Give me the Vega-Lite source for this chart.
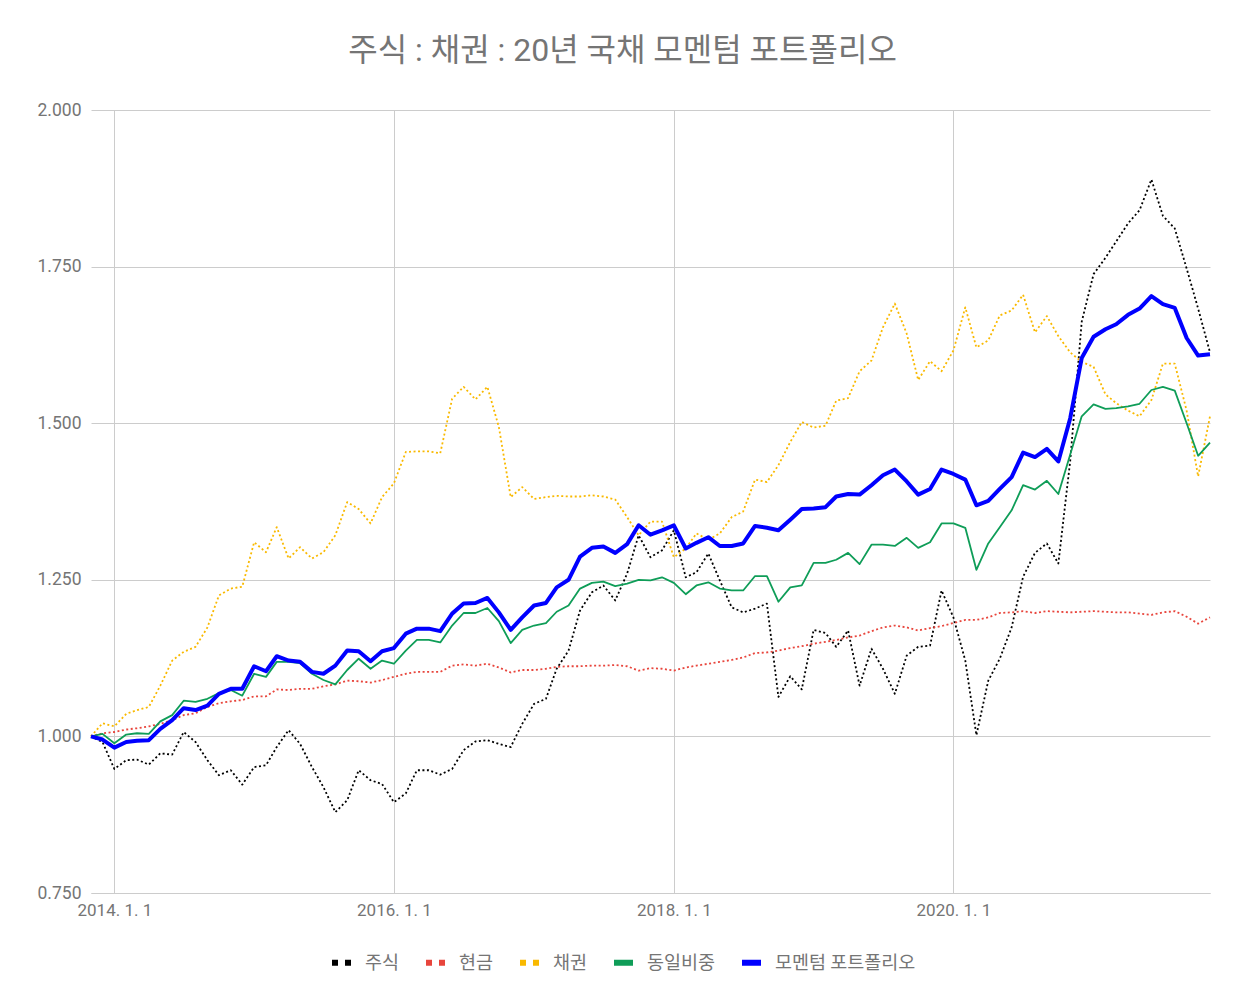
{
  "$schema": "https://vega.github.io/schema/vega-lite/v6.json",
  "autosize": {"type": "none"},
  "width": 1119,
  "height": 783,
  "padding": {"left": 91, "top": 110, "right": 24, "bottom": 108},
  "background": "white",
  "config": {"view": {"stroke": null}, "font": "Roboto, Noto Sans CJK KR"},
  "title": {
    "text": "주식 : 채권 : 20년 국채 모멘텀 포트폴리오",
    "font": "Roboto, Noto Sans CJK KR",
    "fontSize": 32,
    "fontWeight": "normal",
    "color": "#757575",
    "anchor": "middle",
    "offset": 33,
    "dx": -28
  },
  "data": {"values": [
    {"date":"2013-11-01","series":"주식","value":1.000},{"date":"2013-12-01","series":"주식","value":0.991},
    {"date":"2014-01-01","series":"주식","value":0.948},{"date":"2014-02-01","series":"주식","value":0.962},{"date":"2014-03-01","series":"주식","value":0.963},{"date":"2014-04-01","series":"주식","value":0.955},{"date":"2014-05-01","series":"주식","value":0.973},{"date":"2014-06-01","series":"주식","value":0.971},{"date":"2014-07-01","series":"주식","value":1.007},{"date":"2014-08-01","series":"주식","value":0.991},{"date":"2014-09-01","series":"주식","value":0.962},{"date":"2014-10-01","series":"주식","value":0.938},{"date":"2014-11-01","series":"주식","value":0.946},{"date":"2014-12-01","series":"주식","value":0.923},
    {"date":"2015-01-01","series":"주식","value":0.951},{"date":"2015-02-01","series":"주식","value":0.954},{"date":"2015-03-01","series":"주식","value":0.983},{"date":"2015-04-01","series":"주식","value":1.010},{"date":"2015-05-01","series":"주식","value":0.988},{"date":"2015-06-01","series":"주식","value":0.951},{"date":"2015-07-01","series":"주식","value":0.919},{"date":"2015-08-01","series":"주식","value":0.879},{"date":"2015-09-01","series":"주식","value":0.898},{"date":"2015-10-01","series":"주식","value":0.946},{"date":"2015-11-01","series":"주식","value":0.930},{"date":"2015-12-01","series":"주식","value":0.924},
    {"date":"2016-01-01","series":"주식","value":0.895},{"date":"2016-02-01","series":"주식","value":0.909},{"date":"2016-03-01","series":"주식","value":0.946},{"date":"2016-04-01","series":"주식","value":0.946},{"date":"2016-05-01","series":"주식","value":0.939},{"date":"2016-06-01","series":"주식","value":0.948},{"date":"2016-07-01","series":"주식","value":0.978},{"date":"2016-08-01","series":"주식","value":0.992},{"date":"2016-09-01","series":"주식","value":0.994},{"date":"2016-10-01","series":"주식","value":0.988},{"date":"2016-11-01","series":"주식","value":0.983},{"date":"2016-12-01","series":"주식","value":1.020},
    {"date":"2017-01-01","series":"주식","value":1.052},{"date":"2017-02-01","series":"주식","value":1.060},{"date":"2017-03-01","series":"주식","value":1.108},{"date":"2017-04-01","series":"주식","value":1.137},{"date":"2017-05-01","series":"주식","value":1.201},{"date":"2017-06-01","series":"주식","value":1.230},{"date":"2017-07-01","series":"주식","value":1.241},{"date":"2017-08-01","series":"주식","value":1.217},{"date":"2017-09-01","series":"주식","value":1.260},{"date":"2017-10-01","series":"주식","value":1.321},{"date":"2017-11-01","series":"주식","value":1.286},{"date":"2017-12-01","series":"주식","value":1.297},
    {"date":"2018-01-01","series":"주식","value":1.329},{"date":"2018-02-01","series":"주식","value":1.254},{"date":"2018-03-01","series":"주식","value":1.262},{"date":"2018-04-01","series":"주식","value":1.292},{"date":"2018-05-01","series":"주식","value":1.249},{"date":"2018-06-01","series":"주식","value":1.206},{"date":"2018-07-01","series":"주식","value":1.198},{"date":"2018-08-01","series":"주식","value":1.204},{"date":"2018-09-01","series":"주식","value":1.212},{"date":"2018-10-01","series":"주식","value":1.063},{"date":"2018-11-01","series":"주식","value":1.096},{"date":"2018-12-01","series":"주식","value":1.075},
    {"date":"2019-01-01","series":"주식","value":1.170},{"date":"2019-02-01","series":"주식","value":1.165},{"date":"2019-03-01","series":"주식","value":1.143},{"date":"2019-04-01","series":"주식","value":1.169},{"date":"2019-05-01","series":"주식","value":1.081},{"date":"2019-06-01","series":"주식","value":1.140},{"date":"2019-07-01","series":"주식","value":1.108},{"date":"2019-08-01","series":"주식","value":1.068},{"date":"2019-09-01","series":"주식","value":1.129},{"date":"2019-10-01","series":"주식","value":1.143},{"date":"2019-11-01","series":"주식","value":1.145},{"date":"2019-12-01","series":"주식","value":1.233},
    {"date":"2020-01-01","series":"주식","value":1.190},{"date":"2020-02-01","series":"주식","value":1.121},{"date":"2020-03-01","series":"주식","value":1.002},{"date":"2020-04-01","series":"주식","value":1.089},{"date":"2020-05-01","series":"주식","value":1.124},{"date":"2020-06-01","series":"주식","value":1.174},{"date":"2020-07-01","series":"주식","value":1.255},{"date":"2020-08-01","series":"주식","value":1.293},{"date":"2020-09-01","series":"주식","value":1.308},{"date":"2020-10-01","series":"주식","value":1.276},{"date":"2020-11-01","series":"주식","value":1.440},{"date":"2020-12-01","series":"주식","value":1.662},
    {"date":"2021-01-01","series":"주식","value":1.738},{"date":"2021-02-01","series":"주식","value":1.764},{"date":"2021-03-01","series":"주식","value":1.790},{"date":"2021-04-01","series":"주식","value":1.819},{"date":"2021-05-01","series":"주식","value":1.840},{"date":"2021-06-01","series":"주식","value":1.889},{"date":"2021-07-01","series":"주식","value":1.831},{"date":"2021-08-01","series":"주식","value":1.811},{"date":"2021-09-01","series":"주식","value":1.747},{"date":"2021-10-01","series":"주식","value":1.683},{"date":"2021-11-01","series":"주식","value":1.613},

    {"date":"2013-11-01","series":"현금","value":1.000},{"date":"2013-12-01","series":"현금","value":1.005},
    {"date":"2014-01-01","series":"현금","value":1.007},{"date":"2014-02-01","series":"현금","value":1.011},{"date":"2014-03-01","series":"현금","value":1.013},{"date":"2014-04-01","series":"현금","value":1.016},{"date":"2014-05-01","series":"현금","value":1.020},{"date":"2014-06-01","series":"현금","value":1.026},{"date":"2014-07-01","series":"현금","value":1.034},{"date":"2014-08-01","series":"현금","value":1.037},{"date":"2014-09-01","series":"현금","value":1.047},{"date":"2014-10-01","series":"현금","value":1.053},{"date":"2014-11-01","series":"현금","value":1.056},{"date":"2014-12-01","series":"현금","value":1.058},
    {"date":"2015-01-01","series":"현금","value":1.064},{"date":"2015-02-01","series":"현금","value":1.064},{"date":"2015-03-01","series":"현금","value":1.075},{"date":"2015-04-01","series":"현금","value":1.074},{"date":"2015-05-01","series":"현금","value":1.076},{"date":"2015-06-01","series":"현금","value":1.076},{"date":"2015-07-01","series":"현금","value":1.080},{"date":"2015-08-01","series":"현금","value":1.083},{"date":"2015-09-01","series":"현금","value":1.089},{"date":"2015-10-01","series":"현금","value":1.088},{"date":"2015-11-01","series":"현금","value":1.086},{"date":"2015-12-01","series":"현금","value":1.090},
    {"date":"2016-01-01","series":"현금","value":1.095},{"date":"2016-02-01","series":"현금","value":1.100},{"date":"2016-03-01","series":"현금","value":1.103},{"date":"2016-04-01","series":"현금","value":1.103},{"date":"2016-05-01","series":"현금","value":1.103},{"date":"2016-06-01","series":"현금","value":1.113},{"date":"2016-07-01","series":"현금","value":1.115},{"date":"2016-08-01","series":"현금","value":1.113},{"date":"2016-09-01","series":"현금","value":1.116},{"date":"2016-10-01","series":"현금","value":1.110},{"date":"2016-11-01","series":"현금","value":1.102},{"date":"2016-12-01","series":"현금","value":1.106},
    {"date":"2017-01-01","series":"현금","value":1.106},{"date":"2017-02-01","series":"현금","value":1.108},{"date":"2017-03-01","series":"현금","value":1.111},{"date":"2017-04-01","series":"현금","value":1.112},{"date":"2017-05-01","series":"현금","value":1.112},{"date":"2017-06-01","series":"현금","value":1.113},{"date":"2017-07-01","series":"현금","value":1.113},{"date":"2017-08-01","series":"현금","value":1.114},{"date":"2017-09-01","series":"현금","value":1.112},{"date":"2017-10-01","series":"현금","value":1.105},{"date":"2017-11-01","series":"현금","value":1.109},{"date":"2017-12-01","series":"현금","value":1.108},
    {"date":"2018-01-01","series":"현금","value":1.105},{"date":"2018-02-01","series":"현금","value":1.110},{"date":"2018-03-01","series":"현금","value":1.113},{"date":"2018-04-01","series":"현금","value":1.116},{"date":"2018-05-01","series":"현금","value":1.119},{"date":"2018-06-01","series":"현금","value":1.122},{"date":"2018-07-01","series":"현금","value":1.126},{"date":"2018-08-01","series":"현금","value":1.133},{"date":"2018-09-01","series":"현금","value":1.134},{"date":"2018-10-01","series":"현금","value":1.137},{"date":"2018-11-01","series":"현금","value":1.141},{"date":"2018-12-01","series":"현금","value":1.144},
    {"date":"2019-01-01","series":"현금","value":1.148},{"date":"2019-02-01","series":"현금","value":1.151},{"date":"2019-03-01","series":"현금","value":1.154},{"date":"2019-04-01","series":"현금","value":1.158},{"date":"2019-05-01","series":"현금","value":1.161},{"date":"2019-06-01","series":"현금","value":1.168},{"date":"2019-07-01","series":"현금","value":1.174},{"date":"2019-08-01","series":"현금","value":1.177},{"date":"2019-09-01","series":"현금","value":1.174},{"date":"2019-10-01","series":"현금","value":1.169},{"date":"2019-11-01","series":"현금","value":1.173},{"date":"2019-12-01","series":"현금","value":1.176},
    {"date":"2020-01-01","series":"현금","value":1.181},{"date":"2020-02-01","series":"현금","value":1.186},{"date":"2020-03-01","series":"현금","value":1.186},{"date":"2020-04-01","series":"현금","value":1.190},{"date":"2020-05-01","series":"현금","value":1.197},{"date":"2020-06-01","series":"현금","value":1.198},{"date":"2020-07-01","series":"현금","value":1.200},{"date":"2020-08-01","series":"현금","value":1.197},{"date":"2020-09-01","series":"현금","value":1.200},{"date":"2020-10-01","series":"현금","value":1.199},{"date":"2020-11-01","series":"현금","value":1.198},{"date":"2020-12-01","series":"현금","value":1.199},
    {"date":"2021-01-01","series":"현금","value":1.200},{"date":"2021-02-01","series":"현금","value":1.199},{"date":"2021-03-01","series":"현금","value":1.198},{"date":"2021-04-01","series":"현금","value":1.198},{"date":"2021-05-01","series":"현금","value":1.196},{"date":"2021-06-01","series":"현금","value":1.194},{"date":"2021-07-01","series":"현금","value":1.198},{"date":"2021-08-01","series":"현금","value":1.200},{"date":"2021-09-01","series":"현금","value":1.191},{"date":"2021-10-01","series":"현금","value":1.180},{"date":"2021-11-01","series":"현금","value":1.190},

    {"date":"2013-11-01","series":"채권","value":1.000},{"date":"2013-12-01","series":"채권","value":1.021},
    {"date":"2014-01-01","series":"채권","value":1.016},{"date":"2014-02-01","series":"채권","value":1.036},{"date":"2014-03-01","series":"채권","value":1.042},{"date":"2014-04-01","series":"채권","value":1.047},{"date":"2014-05-01","series":"채권","value":1.081},{"date":"2014-06-01","series":"채권","value":1.121},{"date":"2014-07-01","series":"채권","value":1.135},{"date":"2014-08-01","series":"채권","value":1.143},{"date":"2014-09-01","series":"채권","value":1.174},{"date":"2014-10-01","series":"채권","value":1.225},{"date":"2014-11-01","series":"채권","value":1.236},{"date":"2014-12-01","series":"채권","value":1.239},
    {"date":"2015-01-01","series":"채권","value":1.310},{"date":"2015-02-01","series":"채권","value":1.294},{"date":"2015-03-01","series":"채권","value":1.334},{"date":"2015-04-01","series":"채권","value":1.284},{"date":"2015-05-01","series":"채권","value":1.302},{"date":"2015-06-01","series":"채권","value":1.284},{"date":"2015-07-01","series":"채권","value":1.294},{"date":"2015-08-01","series":"채권","value":1.321},{"date":"2015-09-01","series":"채권","value":1.374},{"date":"2015-10-01","series":"채권","value":1.363},{"date":"2015-11-01","series":"채권","value":1.340},{"date":"2015-12-01","series":"채권","value":1.382},
    {"date":"2016-01-01","series":"채권","value":1.404},{"date":"2016-02-01","series":"채권","value":1.454},{"date":"2016-03-01","series":"채권","value":1.455},{"date":"2016-04-01","series":"채권","value":1.455},{"date":"2016-05-01","series":"채권","value":1.452},{"date":"2016-06-01","series":"채권","value":1.539},{"date":"2016-07-01","series":"채권","value":1.558},{"date":"2016-08-01","series":"채권","value":1.538},{"date":"2016-09-01","series":"채권","value":1.558},{"date":"2016-10-01","series":"채권","value":1.494},{"date":"2016-11-01","series":"채권","value":1.382},{"date":"2016-12-01","series":"채권","value":1.398},
    {"date":"2017-01-01","series":"채권","value":1.379},{"date":"2017-02-01","series":"채권","value":1.382},{"date":"2017-03-01","series":"채권","value":1.384},{"date":"2017-04-01","series":"채권","value":1.383},{"date":"2017-05-01","series":"채권","value":1.383},{"date":"2017-06-01","series":"채권","value":1.385},{"date":"2017-07-01","series":"채권","value":1.383},{"date":"2017-08-01","series":"채권","value":1.378},{"date":"2017-09-01","series":"채권","value":1.350},{"date":"2017-10-01","series":"채권","value":1.321},{"date":"2017-11-01","series":"채권","value":1.343},{"date":"2017-12-01","series":"채권","value":1.343},
    {"date":"2018-01-01","series":"채권","value":1.286},{"date":"2018-02-01","series":"채권","value":1.300},{"date":"2018-03-01","series":"채권","value":1.324},{"date":"2018-04-01","series":"채권","value":1.314},{"date":"2018-05-01","series":"채권","value":1.324},{"date":"2018-06-01","series":"채권","value":1.350},{"date":"2018-07-01","series":"채권","value":1.359},{"date":"2018-08-01","series":"채권","value":1.410},{"date":"2018-09-01","series":"채권","value":1.406},{"date":"2018-10-01","series":"채권","value":1.433},{"date":"2018-11-01","series":"채권","value":1.470},{"date":"2018-12-01","series":"채권","value":1.502},
    {"date":"2019-01-01","series":"채권","value":1.493},{"date":"2019-02-01","series":"채권","value":1.496},{"date":"2019-03-01","series":"채권","value":1.536},{"date":"2019-04-01","series":"채권","value":1.540},{"date":"2019-05-01","series":"채권","value":1.583},{"date":"2019-06-01","series":"채권","value":1.600},{"date":"2019-07-01","series":"채권","value":1.653},{"date":"2019-08-01","series":"채권","value":1.691},{"date":"2019-09-01","series":"채권","value":1.643},{"date":"2019-10-01","series":"채권","value":1.569},{"date":"2019-11-01","series":"채권","value":1.599},{"date":"2019-12-01","series":"채권","value":1.583},
    {"date":"2020-01-01","series":"채권","value":1.616},{"date":"2020-02-01","series":"채권","value":1.685},{"date":"2020-03-01","series":"채권","value":1.621},{"date":"2020-04-01","series":"채권","value":1.632},{"date":"2020-05-01","series":"채권","value":1.672},{"date":"2020-06-01","series":"채권","value":1.680},{"date":"2020-07-01","series":"채권","value":1.705},{"date":"2020-08-01","series":"채권","value":1.645},{"date":"2020-09-01","series":"채권","value":1.671},{"date":"2020-10-01","series":"채권","value":1.639},{"date":"2020-11-01","series":"채권","value":1.613},{"date":"2020-12-01","series":"채권","value":1.598},
    {"date":"2021-01-01","series":"채권","value":1.590},{"date":"2021-02-01","series":"채권","value":1.546},{"date":"2021-03-01","series":"채권","value":1.532},{"date":"2021-04-01","series":"채권","value":1.520},{"date":"2021-05-01","series":"채권","value":1.511},{"date":"2021-06-01","series":"채권","value":1.537},{"date":"2021-07-01","series":"채권","value":1.595},{"date":"2021-08-01","series":"채권","value":1.595},{"date":"2021-09-01","series":"채권","value":1.520},{"date":"2021-10-01","series":"채권","value":1.415},{"date":"2021-11-01","series":"채권","value":1.511},

    {"date":"2013-11-01","series":"동일비중","value":1.000},{"date":"2013-12-01","series":"동일비중","value":1.004},
    {"date":"2014-01-01","series":"동일비중","value":0.989},{"date":"2014-02-01","series":"동일비중","value":1.003},{"date":"2014-03-01","series":"동일비중","value":1.005},{"date":"2014-04-01","series":"동일비중","value":1.004},{"date":"2014-05-01","series":"동일비중","value":1.024},{"date":"2014-06-01","series":"동일비중","value":1.034},{"date":"2014-07-01","series":"동일비중","value":1.057},{"date":"2014-08-01","series":"동일비중","value":1.055},{"date":"2014-09-01","series":"동일비중","value":1.060},{"date":"2014-10-01","series":"동일비중","value":1.069},{"date":"2014-11-01","series":"동일비중","value":1.074},{"date":"2014-12-01","series":"동일비중","value":1.065},
    {"date":"2015-01-01","series":"동일비중","value":1.100},{"date":"2015-02-01","series":"동일비중","value":1.095},{"date":"2015-03-01","series":"동일비중","value":1.119},{"date":"2015-04-01","series":"동일비중","value":1.119},{"date":"2015-05-01","series":"동일비중","value":1.117},{"date":"2015-06-01","series":"동일비중","value":1.100},{"date":"2015-07-01","series":"동일비중","value":1.090},{"date":"2015-08-01","series":"동일비중","value":1.083},{"date":"2015-09-01","series":"동일비중","value":1.106},{"date":"2015-10-01","series":"동일비중","value":1.124},{"date":"2015-11-01","series":"동일비중","value":1.108},{"date":"2015-12-01","series":"동일비중","value":1.121},
    {"date":"2016-01-01","series":"동일비중","value":1.116},{"date":"2016-02-01","series":"동일비중","value":1.137},{"date":"2016-03-01","series":"동일비중","value":1.154},{"date":"2016-04-01","series":"동일비중","value":1.154},{"date":"2016-05-01","series":"동일비중","value":1.150},{"date":"2016-06-01","series":"동일비중","value":1.177},{"date":"2016-07-01","series":"동일비중","value":1.197},{"date":"2016-08-01","series":"동일비중","value":1.197},{"date":"2016-09-01","series":"동일비중","value":1.205},{"date":"2016-10-01","series":"동일비중","value":1.184},{"date":"2016-11-01","series":"동일비중","value":1.149},{"date":"2016-12-01","series":"동일비중","value":1.170},
    {"date":"2017-01-01","series":"동일비중","value":1.177},{"date":"2017-02-01","series":"동일비중","value":1.181},{"date":"2017-03-01","series":"동일비중","value":1.199},{"date":"2017-04-01","series":"동일비중","value":1.209},{"date":"2017-05-01","series":"동일비중","value":1.236},{"date":"2017-06-01","series":"동일비중","value":1.245},{"date":"2017-07-01","series":"동일비중","value":1.247},{"date":"2017-08-01","series":"동일비중","value":1.240},{"date":"2017-09-01","series":"동일비중","value":1.244},{"date":"2017-10-01","series":"동일비중","value":1.250},{"date":"2017-11-01","series":"동일비중","value":1.249},{"date":"2017-12-01","series":"동일비중","value":1.254},
    {"date":"2018-01-01","series":"동일비중","value":1.245},{"date":"2018-02-01","series":"동일비중","value":1.227},{"date":"2018-03-01","series":"동일비중","value":1.241},{"date":"2018-04-01","series":"동일비중","value":1.246},{"date":"2018-05-01","series":"동일비중","value":1.236},{"date":"2018-06-01","series":"동일비중","value":1.233},{"date":"2018-07-01","series":"동일비중","value":1.233},{"date":"2018-08-01","series":"동일비중","value":1.256},{"date":"2018-09-01","series":"동일비중","value":1.256},{"date":"2018-10-01","series":"동일비중","value":1.215},{"date":"2018-11-01","series":"동일비중","value":1.238},{"date":"2018-12-01","series":"동일비중","value":1.241},
    {"date":"2019-01-01","series":"동일비중","value":1.277},{"date":"2019-02-01","series":"동일비중","value":1.277},{"date":"2019-03-01","series":"동일비중","value":1.282},{"date":"2019-04-01","series":"동일비중","value":1.293},{"date":"2019-05-01","series":"동일비중","value":1.275},{"date":"2019-06-01","series":"동일비중","value":1.306},{"date":"2019-07-01","series":"동일비중","value":1.306},{"date":"2019-08-01","series":"동일비중","value":1.304},{"date":"2019-09-01","series":"동일비중","value":1.317},{"date":"2019-10-01","series":"동일비중","value":1.301},{"date":"2019-11-01","series":"동일비중","value":1.310},{"date":"2019-12-01","series":"동일비중","value":1.340},
    {"date":"2020-01-01","series":"동일비중","value":1.340},{"date":"2020-02-01","series":"동일비중","value":1.333},{"date":"2020-03-01","series":"동일비중","value":1.266},{"date":"2020-04-01","series":"동일비중","value":1.308},{"date":"2020-05-01","series":"동일비중","value":1.334},{"date":"2020-06-01","series":"동일비중","value":1.361},{"date":"2020-07-01","series":"동일비중","value":1.401},{"date":"2020-08-01","series":"동일비중","value":1.394},{"date":"2020-09-01","series":"동일비중","value":1.408},{"date":"2020-10-01","series":"동일비중","value":1.387},{"date":"2020-11-01","series":"동일비중","value":1.450},{"date":"2020-12-01","series":"동일비중","value":1.511},
    {"date":"2021-01-01","series":"동일비중","value":1.530},{"date":"2021-02-01","series":"동일비중","value":1.523},{"date":"2021-03-01","series":"동일비중","value":1.524},{"date":"2021-04-01","series":"동일비중","value":1.527},{"date":"2021-05-01","series":"동일비중","value":1.531},{"date":"2021-06-01","series":"동일비중","value":1.553},{"date":"2021-07-01","series":"동일비중","value":1.558},{"date":"2021-08-01","series":"동일비중","value":1.552},{"date":"2021-09-01","series":"동일비중","value":1.500},{"date":"2021-10-01","series":"동일비중","value":1.448},{"date":"2021-11-01","series":"동일비중","value":1.469},

    {"date":"2013-11-01","series":"모멘텀 포트폴리오","value":1.000},{"date":"2013-12-01","series":"모멘텀 포트폴리오","value":0.995},
    {"date":"2014-01-01","series":"모멘텀 포트폴리오","value":0.982},{"date":"2014-02-01","series":"모멘텀 포트폴리오","value":0.991},{"date":"2014-03-01","series":"모멘텀 포트폴리오","value":0.993},{"date":"2014-04-01","series":"모멘텀 포트폴리오","value":0.994},{"date":"2014-05-01","series":"모멘텀 포트폴리오","value":1.012},{"date":"2014-06-01","series":"모멘텀 포트폴리오","value":1.026},{"date":"2014-07-01","series":"모멘텀 포트폴리오","value":1.045},{"date":"2014-08-01","series":"모멘텀 포트폴리오","value":1.042},{"date":"2014-09-01","series":"모멘텀 포트폴리오","value":1.049},{"date":"2014-10-01","series":"모멘텀 포트폴리오","value":1.068},{"date":"2014-11-01","series":"모멘텀 포트폴리오","value":1.076},{"date":"2014-12-01","series":"모멘텀 포트폴리오","value":1.076},
    {"date":"2015-01-01","series":"모멘텀 포트폴리오","value":1.112},{"date":"2015-02-01","series":"모멘텀 포트폴리오","value":1.104},{"date":"2015-03-01","series":"모멘텀 포트폴리오","value":1.128},{"date":"2015-04-01","series":"모멘텀 포트폴리오","value":1.121},{"date":"2015-05-01","series":"모멘텀 포트폴리오","value":1.119},{"date":"2015-06-01","series":"모멘텀 포트폴리오","value":1.103},{"date":"2015-07-01","series":"모멘텀 포트폴리오","value":1.100},{"date":"2015-08-01","series":"모멘텀 포트폴리오","value":1.113},{"date":"2015-09-01","series":"모멘텀 포트폴리오","value":1.137},{"date":"2015-10-01","series":"모멘텀 포트폴리오","value":1.136},{"date":"2015-11-01","series":"모멘텀 포트폴리오","value":1.120},{"date":"2015-12-01","series":"모멘텀 포트폴리오","value":1.136},
    {"date":"2016-01-01","series":"모멘텀 포트폴리오","value":1.141},{"date":"2016-02-01","series":"모멘텀 포트폴리오","value":1.164},{"date":"2016-03-01","series":"모멘텀 포트폴리오","value":1.172},{"date":"2016-04-01","series":"모멘텀 포트폴리오","value":1.172},{"date":"2016-05-01","series":"모멘텀 포트폴리오","value":1.168},{"date":"2016-06-01","series":"모멘텀 포트폴리오","value":1.196},{"date":"2016-07-01","series":"모멘텀 포트폴리오","value":1.212},{"date":"2016-08-01","series":"모멘텀 포트폴리오","value":1.213},{"date":"2016-09-01","series":"모멘텀 포트폴리오","value":1.221},{"date":"2016-10-01","series":"모멘텀 포트폴리오","value":1.198},{"date":"2016-11-01","series":"모멘텀 포트폴리오","value":1.170},{"date":"2016-12-01","series":"모멘텀 포트폴리오","value":1.190},
    {"date":"2017-01-01","series":"모멘텀 포트폴리오","value":1.209},{"date":"2017-02-01","series":"모멘텀 포트폴리오","value":1.213},{"date":"2017-03-01","series":"모멘텀 포트폴리오","value":1.238},{"date":"2017-04-01","series":"모멘텀 포트폴리오","value":1.250},{"date":"2017-05-01","series":"모멘텀 포트폴리오","value":1.287},{"date":"2017-06-01","series":"모멘텀 포트폴리오","value":1.301},{"date":"2017-07-01","series":"모멘텀 포트폴리오","value":1.303},{"date":"2017-08-01","series":"모멘텀 포트폴리오","value":1.293},{"date":"2017-09-01","series":"모멘텀 포트폴리오","value":1.307},{"date":"2017-10-01","series":"모멘텀 포트폴리오","value":1.337},{"date":"2017-11-01","series":"모멘텀 포트폴리오","value":1.322},{"date":"2017-12-01","series":"모멘텀 포트폴리오","value":1.329},
    {"date":"2018-01-01","series":"모멘텀 포트폴리오","value":1.337},{"date":"2018-02-01","series":"모멘텀 포트폴리오","value":1.300},{"date":"2018-03-01","series":"모멘텀 포트폴리오","value":1.309},{"date":"2018-04-01","series":"모멘텀 포트폴리오","value":1.318},{"date":"2018-05-01","series":"모멘텀 포트폴리오","value":1.304},{"date":"2018-06-01","series":"모멘텀 포트폴리오","value":1.304},{"date":"2018-07-01","series":"모멘텀 포트폴리오","value":1.308},{"date":"2018-08-01","series":"모멘텀 포트폴리오","value":1.336},{"date":"2018-09-01","series":"모멘텀 포트폴리오","value":1.333},{"date":"2018-10-01","series":"모멘텀 포트폴리오","value":1.329},{"date":"2018-11-01","series":"모멘텀 포트폴리오","value":1.346},{"date":"2018-12-01","series":"모멘텀 포트폴리오","value":1.363},
    {"date":"2019-01-01","series":"모멘텀 포트폴리오","value":1.364},{"date":"2019-02-01","series":"모멘텀 포트폴리오","value":1.366},{"date":"2019-03-01","series":"모멘텀 포트폴리오","value":1.383},{"date":"2019-04-01","series":"모멘텀 포트폴리오","value":1.387},{"date":"2019-05-01","series":"모멘텀 포트폴리오","value":1.386},{"date":"2019-06-01","series":"모멘텀 포트폴리오","value":1.401},{"date":"2019-07-01","series":"모멘텀 포트폴리오","value":1.417},{"date":"2019-08-01","series":"모멘텀 포트폴리오","value":1.426},{"date":"2019-09-01","series":"모멘텀 포트폴리오","value":1.407},{"date":"2019-10-01","series":"모멘텀 포트폴리오","value":1.386},{"date":"2019-11-01","series":"모멘텀 포트폴리오","value":1.395},{"date":"2019-12-01","series":"모멘텀 포트폴리오","value":1.426},
    {"date":"2020-01-01","series":"모멘텀 포트폴리오","value":1.419},{"date":"2020-02-01","series":"모멘텀 포트폴리오","value":1.410},{"date":"2020-03-01","series":"모멘텀 포트폴리오","value":1.369},{"date":"2020-04-01","series":"모멘텀 포트폴리오","value":1.376},{"date":"2020-05-01","series":"모멘텀 포트폴리오","value":1.395},{"date":"2020-06-01","series":"모멘텀 포트폴리오","value":1.414},{"date":"2020-07-01","series":"모멘텀 포트폴리오","value":1.453},{"date":"2020-08-01","series":"모멘텀 포트폴리오","value":1.446},{"date":"2020-09-01","series":"모멘텀 포트폴리오","value":1.459},{"date":"2020-10-01","series":"모멘텀 포트폴리오","value":1.439},{"date":"2020-11-01","series":"모멘텀 포트폴리오","value":1.508},{"date":"2020-12-01","series":"모멘텀 포트폴리오","value":1.604},
    {"date":"2021-01-01","series":"모멘텀 포트폴리오","value":1.638},{"date":"2021-02-01","series":"모멘텀 포트폴리오","value":1.650},{"date":"2021-03-01","series":"모멘텀 포트폴리오","value":1.658},{"date":"2021-04-01","series":"모멘텀 포트폴리오","value":1.673},{"date":"2021-05-01","series":"모멘텀 포트폴리오","value":1.683},{"date":"2021-06-01","series":"모멘텀 포트폴리오","value":1.703},{"date":"2021-07-01","series":"모멘텀 포트폴리오","value":1.690},{"date":"2021-08-01","series":"모멘텀 포트폴리오","value":1.684},{"date":"2021-09-01","series":"모멘텀 포트폴리오","value":1.636},{"date":"2021-10-01","series":"모멘텀 포트폴리오","value":1.608},{"date":"2021-11-01","series":"모멘텀 포트폴리오","value":1.610}
  ]},
  "encoding": {
    "x": {
      "field": "date",
      "type": "temporal",
      "scale": {"type": "utc", "nice": false},
      "axis": {
        "title": null,
        "values": [
          {"year": 2014, "month": 1, "date": 1, "utc": true},
          {"year": 2016, "month": 1, "date": 1, "utc": true},
          {"year": 2018, "month": 1, "date": 1, "utc": true},
          {"year": 2020, "month": 1, "date": 1, "utc": true}
        ],
        "labelExpr": "utcFormat(datum.value, '%Y. %-m. %-d')",
        "grid": true,
        "gridColor": "#cccccc",
        "ticks": false,
        "domain": true,
        "domainColor": "#cccccc",
        "labelFont": "Roboto",
        "labelFontSize": 17,
        "labelColor": "#757575",
        "labelPadding": 9
      }
    },
    "y": {
      "field": "value",
      "type": "quantitative",
      "scale": {"domain": [0.75, 2.0], "nice": false, "zero": false},
      "axis": {
        "title": null,
        "values": [0.75, 1, 1.25, 1.5, 1.75, 2],
        "format": ".3f",
        "grid": true,
        "gridColor": "#cccccc",
        "ticks": false,
        "domain": false,
        "labelFont": "Roboto",
        "labelFontSize": 17.5,
        "labelColor": "#757575",
        "labelPadding": 10
      }
    },
    "color": {
      "field": "series",
      "type": "nominal",
      "scale": {
        "domain": ["주식", "현금", "채권", "동일비중", "모멘텀 포트폴리오"],
        "range": ["#000000", "#e8453c", "#f9b900", "#0f9d58", "#0000ff"]
      },
      "legend": {
        "title": null,
        "orient": "none",
        "direction": "horizontal",
        "legendX": 238,
        "legendY": 840,
        "padding": 0,
        "symbolType": "stroke",
        "symbolSize": 361,
        "symbolStrokeWidth": 6,
        "labelFont": "Noto Sans CJK KR",
        "labelFontSize": 18.5,
        "labelColor": "#757575",
        "labelOffset": 11,
        "columnPadding": 14,
        "encode": {
          "symbols": {
            "update": {
              "strokeDash": {"signal": "indexof(['동일비중', '모멘텀 포트폴리오'], datum.value) >= 0 ? [1, 0] : [6, 7]"},
              "strokeWidth": {"value": 6}
            }
          }
        }
      }
    }
  },
  "layer": [
    {
      "transform": [{"filter": {"field": "series", "oneOf": ["주식", "현금", "채권"]}}],
      "mark": {"type": "line", "strokeDash": [2, 2.5], "strokeWidth": 1.8, "strokeJoin": "round"}
    },
    {
      "transform": [{"filter": {"field": "series", "equal": "동일비중"}}],
      "mark": {"type": "line", "strokeWidth": 1.8, "strokeJoin": "round"}
    },
    {
      "transform": [{"filter": {"field": "series", "equal": "모멘텀 포트폴리오"}}],
      "mark": {"type": "line", "strokeWidth": 4, "strokeJoin": "round"}
    }
  ]
}
